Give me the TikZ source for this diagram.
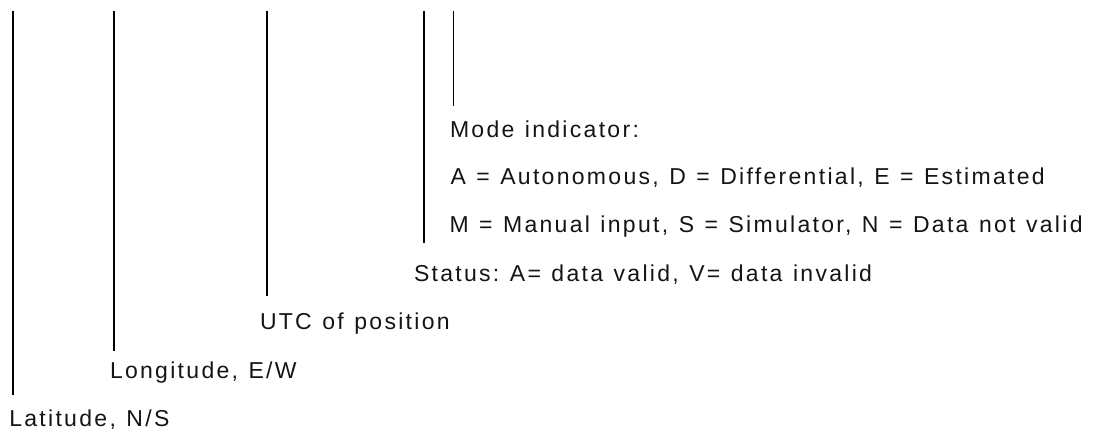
\documentclass[tikz,border=0pt]{standalone}
\usepackage{fontspec}
\setmainfont{Liberation Sans}[LetterSpace=10]
\newcommand\lblfont{\fontsize{23}{28}\selectfont\frenchspacing\spaceskip 10.5pt plus 2pt minus 1pt\relax}
\begin{document}
\begin{tikzpicture}[x=1pt,y=-1pt,
  lbl/.style={anchor=base west,inner sep=0pt,outer sep=0pt,font=\lblfont,text=black!92},
  tick/.style={line width=1.8pt,black}]
\useasboundingbox (0,0) rectangle (1093,430);
% labels
\node[lbl] (mode) at (450,137.5) {Mode indicator:};
\node[lbl] (modeA) at (450.5,184.5) {A = Autonomous, D = Differential, E = Estimated};
\node[lbl] (modeM) at (449.5,232.5) {M = Manual input, S = Simulator, N = Data not valid};
\node[lbl] (status) at (414,281.5) {Status: A= data valid, V= data invalid};
\node[lbl] (utc) at (260,330) {UTC of position};
\node[lbl] (lon) at (110,378) {Longitude, E/W};
\node[lbl] (lat) at (9.3,426) {Latitude, N/S};
% line ends
\coordinate (t1) at (12.7,11);  \coordinate (b1) at (12.7,395);
\coordinate (t2) at (113.7,11); \coordinate (b2) at (113.7,351);
\coordinate (t3) at (266.7,11); \coordinate (b3) at (266.7,296);
\coordinate (t4) at (423.7,11); \coordinate (b4) at (423.7,243);
\coordinate (t5) at (453.5,11); \coordinate (b5) at (453.5,106);
\draw[tick] (t1) -- (b1);
\draw[tick] (t2) -- (b2);
\draw[tick] (t3) -- (b3);
\draw[tick] (t4) -- (b4);
\draw[tick] (t5) -- (b5);
\end{tikzpicture}
\end{document}
